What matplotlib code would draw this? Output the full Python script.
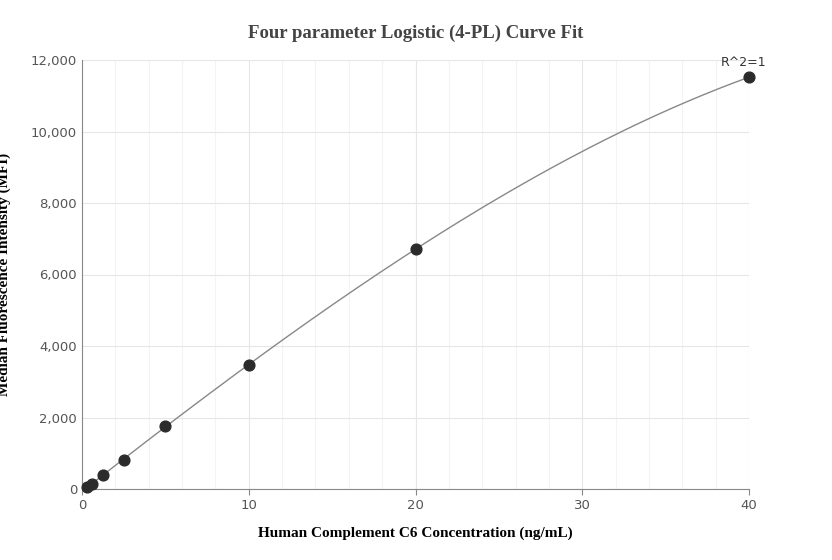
import numpy as np
import matplotlib
matplotlib.use("Agg")
import matplotlib.pyplot as plt
from matplotlib.ticker import FuncFormatter, MultipleLocator

conc = [0.3125, 0.625, 1.25, 2.5, 5, 10, 20, 40]
mfi = [60, 150, 390, 810, 1770, 3470, 6710, 11520]
title = "Four parameter Logistic (4-PL) Curve Fit"
xlabel = "Human Complement C6 Concentration (ng/mL)"
ylabel = "Median Fluorescence Intensity (MFI)"
r2_label = "R^2=1"

fig = plt.figure(figsize=(8.32, 5.6), dpi=100)
ax = fig.add_axes([82/832, 1-489/560, (749-82)/832, (489-60)/560])

coef = np.polyfit(conc, mfi, 3)
xs = np.linspace(0, 40, 300)
ax.plot(xs, np.polyval(coef, xs), color="#888888", lw=1, zorder=2)
ax.scatter(conc, mfi, s=60, color="#2b2b2b", zorder=3, clip_on=False)
ax.annotate(r2_label, (conc[-1], mfi[-1]), xytext=(-4, 6), textcoords="offset points",
            ha="center", va="bottom", fontsize=9, color="#333333")

ax.set_xlim(0, 40)
ax.set_ylim(0, 12000)
ax.xaxis.set_major_locator(MultipleLocator(10))
ax.xaxis.set_minor_locator(MultipleLocator(2))
ax.yaxis.set_major_locator(MultipleLocator(2000))
ax.yaxis.set_major_formatter(FuncFormatter(lambda v, p: f"{int(v):,}"))
ax.grid(True, which="major", color="#e6e6e6", lw=0.8)
ax.grid(True, which="minor", axis="x", color="#f3f3f3", lw=0.8)
ax.set_axisbelow(True)
for s in ["top", "right"]:
    ax.spines[s].set_visible(False)
for s in ["left", "bottom"]:
    ax.spines[s].set_color("#888888")
ax.tick_params(which="both", length=0)
ax.tick_params(which="major", colors="#555555", labelsize=9.5, length=4, color="#888888")
ax.tick_params(axis="y", length=0)

ax.set_xlabel(xlabel, fontfamily="Liberation Serif", fontweight="bold", fontsize=11, labelpad=10)
ax.set_ylabel(ylabel, fontfamily="Liberation Serif", fontweight="bold", fontsize=11, labelpad=14)
fig.text(416/832, 1-33/560, title, ha="center", va="center", fontfamily="Liberation Serif",
         fontweight="bold", fontsize=13.5, color="#444444")
fig.savefig("out.png", dpi=100)
